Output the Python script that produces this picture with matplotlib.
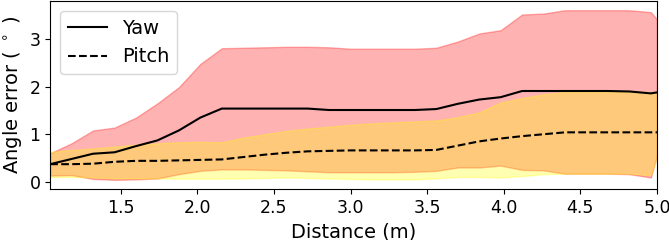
import numpy as np
import matplotlib
matplotlib.use('Agg')
import matplotlib.pyplot as plt

# distances (m)
dist = [1.04, 1.18, 1.32, 1.46, 1.60, 1.74, 1.88, 2.02, 2.16, 2.30,
        2.44, 2.58, 2.72, 2.86, 3.00, 3.14, 3.28, 3.42, 3.56, 3.70,
        3.84, 3.98, 4.12, 4.26, 4.40, 4.54, 4.68, 4.82, 4.96, 5.00]

# yaw error (deg)
yaw_mean = [0.37, 0.48, 0.59, 0.62, 0.75, 0.87, 1.08, 1.35, 1.54, 1.54,
            1.54, 1.54, 1.54, 1.51, 1.51, 1.51, 1.51, 1.51, 1.53, 1.64,
            1.73, 1.78, 1.91, 1.91, 1.91, 1.91, 1.91, 1.90, 1.86, 1.88]
yaw_max = [0.60, 0.81, 1.08, 1.14, 1.35, 1.65, 1.99, 2.48, 2.81, 2.82,
           2.83, 2.84, 2.84, 2.83, 2.80, 2.80, 2.80, 2.80, 2.82, 2.95,
           3.12, 3.19, 3.52, 3.54, 3.61, 3.61, 3.61, 3.61, 3.57, 3.42]
yaw_min = [0.13, 0.14, 0.06, 0.04, 0.05, 0.07, 0.16, 0.23, 0.26, 0.26,
           0.25, 0.24, 0.22, 0.20, 0.20, 0.20, 0.20, 0.21, 0.23, 0.30,
           0.30, 0.34, 0.25, 0.24, 0.17, 0.17, 0.17, 0.16, 0.09, 0.55]

# pitch error (deg)
pitch_mean = [0.37, 0.37, 0.38, 0.42, 0.44, 0.44, 0.45, 0.46, 0.47, 0.52,
              0.57, 0.61, 0.64, 0.65, 0.66, 0.66, 0.66, 0.66, 0.67, 0.76,
              0.85, 0.91, 0.96, 1.00, 1.04, 1.04, 1.04, 1.04, 1.04, 1.04]
pitch_max = [0.63, 0.67, 0.70, 0.74, 0.78, 0.81, 0.83, 0.84, 0.83, 0.93,
             1.00, 1.07, 1.12, 1.16, 1.20, 1.23, 1.25, 1.27, 1.29, 1.36,
             1.46, 1.67, 1.76, 1.84, 1.89, 1.89, 1.89, 1.89, 1.89, 1.87]
pitch_min = [0.10, 0.10, 0.09, 0.07, 0.07, 0.07, 0.065, 0.065, 0.065, 0.07,
             0.08, 0.09, 0.08, 0.07, 0.06, 0.05, 0.05, 0.05, 0.07, 0.10,
             0.10, 0.09, 0.12, 0.16, 0.17, 0.17, 0.17, 0.17, 0.14, 0.50]

fig, ax = plt.subplots(figsize=(6.69, 2.40), dpi=100)
fig.subplots_adjust(left=0.075, right=0.982, top=0.995, bottom=0.213)

ax.fill_between(dist, yaw_min, yaw_max, color='red', alpha=0.3)
ax.fill_between(dist, pitch_min, pitch_max, color='yellow', alpha=0.3)
ax.plot(dist, yaw_mean, color='black', linestyle='-', linewidth=1.5, label='Yaw')
ax.plot(dist, pitch_mean, color='black', linestyle='--', linewidth=1.5, label='Pitch')

ax.set_xlim(1.04, 5.0)
ax.set_ylim(-0.15, 3.8)
ax.set_xticks([1.5, 2.0, 2.5, 3.0, 3.5, 4.0, 4.5, 5.0])
ax.set_yticks([0, 1, 2, 3])
ax.tick_params(labelsize=12.5)
ax.set_xlabel('Distance (m)', fontsize=14)
ax.set_ylabel(r'Angle error ( $^\circ$ )', fontsize=14)
ax.legend(loc='upper left', fontsize=14)

fig.savefig('out.png')
